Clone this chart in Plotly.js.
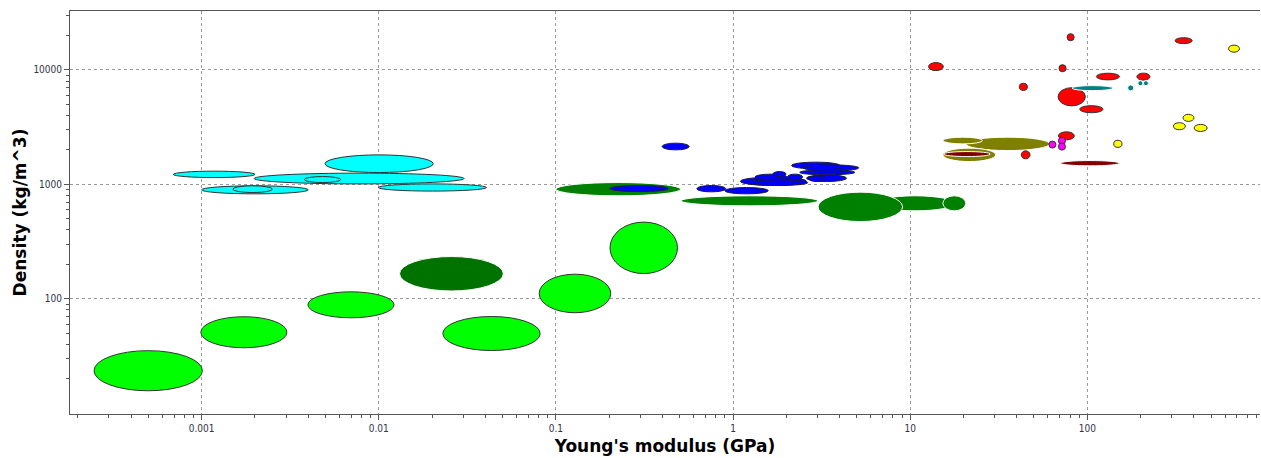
<!DOCTYPE html>
<html>
<head>
<meta charset="utf-8">
<script src="https://cdn.plot.ly/plotly-3.0.1.min.js"></script>
<style>html,body{margin:0;padding:0;background:#fff;}#chart{width:1261px;height:458px;}</style>
</head>
<body>
<div id="chart"></div>
<script>
// Each entry: [E min (GPa), E max (GPa), density min (kg/m^3), density max (kg/m^3)]
const foams = [
  [0.000247, 0.00101, 15.7, 35.2],
  [0.00099, 0.00303, 37.3, 69.7],
  [0.00398, 0.0122, 68.2, 115],
  [0.0230, 0.0815, 35.3, 70.0],
  [0.0805, 0.204, 75.5, 164],
  [0.202, 0.486, 166, 468]
];
const naturalFoams = [
  [0.0131, 0.0505, 117, 234]
];
const woods = [
  [0.100, 0.506, 794, 1037],
  [0.507, 3.02, 649, 794],
  [6.31, 17.9, 587, 794],
  [3.02, 9.06, 473, 855],
  [15.3, 20.6, 587, 794]
];
const elastomers = [
  [0.000692, 0.00200, 1146, 1304],
  [0.00100, 0.00400, 826, 971],
  [0.00150, 0.00251, 848, 971],
  [0.00198, 0.0303, 1009, 1253],
  [0.00380, 0.00610, 1037, 1170],
  [0.00497, 0.0203, 1268, 1810],
  [0.00993, 0.0406, 873, 1009]
];
const polymers = [
  [0.398, 0.565, 2002, 2291],
  [0.202, 0.432, 865, 977],
  [0.625, 0.910, 860, 977],
  [0.900, 1.58, 826, 938],
  [1.10, 2.60, 977, 1156],
  [1.21, 2.64, 977, 1095],
  [1.33, 2.02, 1095, 1228],
  [1.68, 1.99, 1170, 1294],
  [2.03, 2.47, 1095, 1228],
  [2.14, 4.01, 1366, 1563],
  [2.49, 5.13, 1312, 1480],
  [2.38, 4.87, 1211, 1339],
  [2.60, 4.37, 1058, 1211],
  [3.73, 4.08, 1199, 1379],
  [2.68, 3.30, 1058, 1186]
];
const composites = [
  [20.6, 61.4, 1973, 2585],
  [15.3, 25.6, 2257, 2585],
  [15.3, 30.4, 1582, 2072]
];
const fibres = [
  [15.4, 28.4, 1749, 1934],
  [70.5, 152, 1451, 1614]
];
const metals = [
  [68.7, 84.5, 2449, 2877],
  [42.4, 47.5, 1671, 1963],
  [12.7, 15.4, 9863, 11590],
  [76.9, 84.3, 17990, 20740],
  [69.2, 75.9, 9638, 11120],
  [41.3, 45.9, 6622, 7638],
  [68.4, 97.5, 4850, 6998],
  [112.5, 152, 8185, 9360],
  [190.5, 225.9, 8140, 9376],
  [90.6, 122.7, 4227, 4873],
  [313, 391, 16980, 19140]
];
const alloys = [
  [82.0, 139.6, 6592, 7295],
  [169, 183, 6561, 7396],
  [193, 206, 7278, 8054],
  [207.5, 221.3, 7278, 8054]
];
const glasses = [
  [60.7, 66.5, 2075, 2388],
  [68.7, 75.3, 2234, 2576],
  [68.7, 75.3, 1991, 2296]
];
const ceramics = [
  [627, 723, 14290, 16480],
  [347, 400, 3548, 4093],
  [306, 358, 3000, 3459],
  [401, 475, 2897, 3342],
  [141, 157, 2104, 2427]
];

const xTickVals = [0.001, 0.01, 0.1, 1, 10, 100];
const xTickText = ['0.001', '0.01', '0.1', '1', '10', '100'];
const yTickVals = [100, 1000, 10000];
const yTickText = ['100', '1000', '10000'];

const groups = [
  {data: foams, fill: '#00ff00', line: '#333333'},
  {data: naturalFoams, fill: '#007200', line: '#ffffff'},
  {data: woods, fill: '#008000', line: '#ffffff'},
  {data: elastomers, fill: '#00ffff', line: '#333333'},
  {data: polymers, fill: '#0000ff', line: '#1a1a40'},
  {data: composites, fill: '#808000', line: '#ffffff'},
  {data: fibres, fill: '#800000', line: '#ffffff'},
  {data: metals, fill: '#ff0000', line: '#333333'},
  {data: alloys, fill: '#008080', line: '#ffffff'},
  {data: glasses, fill: '#ff00ff', line: '#333333'},
  {data: ceramics, fill: '#ffff00', line: '#333333'}
];

// shapes on log axes take data values
const shapes = [];
groups.forEach(g => {
  g.data.forEach(d => {
    shapes.push({
      type: 'circle', xref: 'x', yref: 'y', layer: 'above',
      x0: d[0], x1: d[1], y0: d[2], y1: d[3],
      fillcolor: g.fill, opacity: 1,
      line: {color: g.line, width: 1}
    });
  });
});

function minorVals(lo, hi) {
  const v = [];
  for (let p = lo; p <= hi; p++) {
    for (let m = 2; m <= 9; m++) v.push(m * Math.pow(10, p));
  }
  return v;
}

const axisCommon = {
  type: 'log',
  showgrid: true, gridcolor: '#9a9a9a', gridwidth: 1, griddash: '3px,3px',
  zeroline: false,
  showline: true, linecolor: '#555555', linewidth: 1,
  ticks: 'outside', ticklen: 5, tickcolor: '#555555', tickwidth: 1,
  tickmode: 'array',
  tickfont: {family: 'DejaVu Sans Condensed, DejaVu Sans', size: 10, color: '#333344'}
};

const layout = {
  width: 1261, height: 458,
  margin: {l: 70, r: 1, t: 11, b: 44},
  paper_bgcolor: '#ffffff', plot_bgcolor: '#ffffff',
  showlegend: false,
  xaxis: Object.assign({}, axisCommon, {
    range: [-3.743, 2.975],
    tickvals: xTickVals, ticktext: xTickText,
    minor: {tickmode: 'array', tickvals: minorVals(-4, 2), ticks: 'outside', ticklen: 3,
      tickcolor: '#555555', tickwidth: 1, showgrid: false},
    mirror: true,
    title: {text: "Young's modulus (GPa)", standoff: 7,
      font: {family: 'DejaVu Sans', size: 17, weight: 'bold', color: '#000000'}}
  }),
  yaxis: Object.assign({}, axisCommon, {
    range: [0.993, 4.515],
    tickvals: yTickVals, ticktext: yTickText,
    minor: {tickmode: 'array', tickvals: minorVals(0, 4), ticks: 'outside', ticklen: 3,
      tickcolor: '#555555', tickwidth: 1, showgrid: false},
    title: {text: 'Density (kg/m^3)', standoff: 2,
      font: {family: 'DejaVu Sans', size: 17, weight: 'bold', color: '#000000'}}
  }),
  shapes: shapes
};

Plotly.newPlot('chart', [{x: [], y: [], type: 'scatter', mode: 'markers', hoverinfo: 'skip'}], layout,
  {displayModeBar: false, staticPlot: true});
</script>
</body>
</html>
